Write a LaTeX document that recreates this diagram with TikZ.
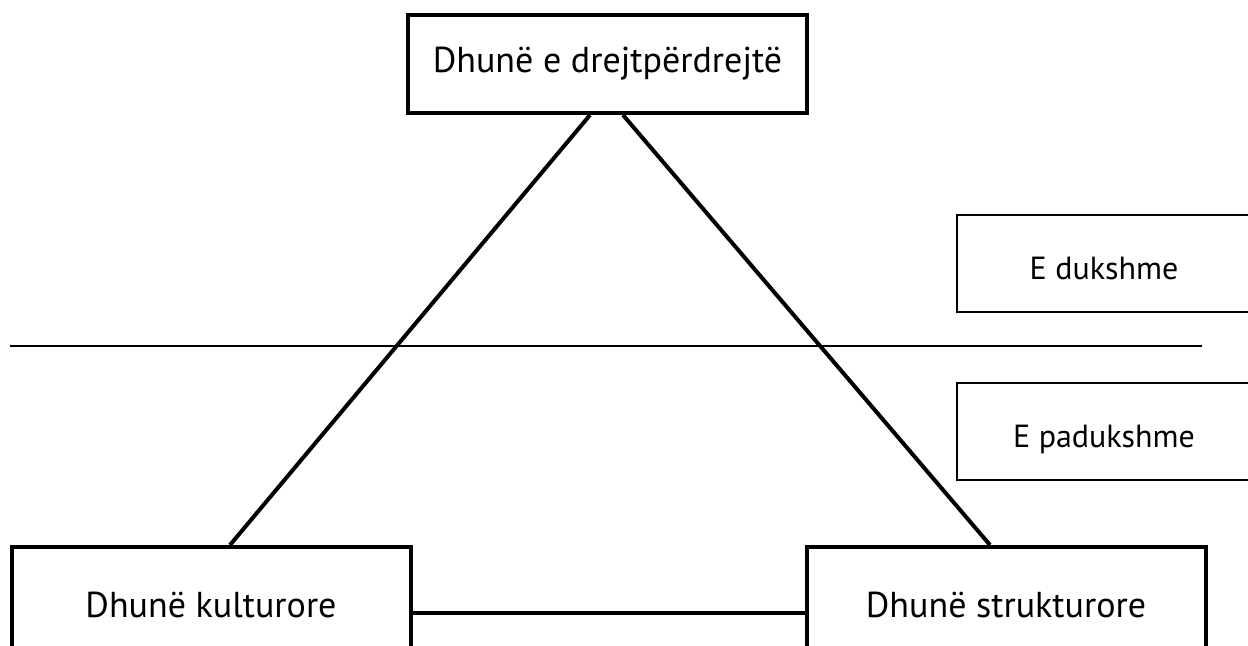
\documentclass[tikz,border=0pt]{standalone}
\usepackage{fontspec}
\setmainfont{PT Sans}
\begin{document}
\begin{tikzpicture}[x=0.5pt,y=-0.5pt,
    vbox/.style={draw, line width=2pt, minimum width=199.5pt, inner sep=0pt,
      font=\fontsize{18}{21}\selectfont},
    levelbox/.style={draw, line width=1.25pt, minimum width=147pt, minimum height=48.5pt,
      inner sep=0pt, text height=16.2pt, text depth=0pt, font=\fontsize{16}{19}\selectfont},
    edge/.style={line width=2pt}]
    \useasboundingbox (0,0) rectangle (1248,645);
    % violence triangle
    \node[vbox, minimum height=49pt] (direct) at (607.5,64) {Dhunë e drejtpërdrejtë};
    \node[vbox, minimum height=58pt] (cultural) at (211,605) {Dhunë kulturore};
    \node[vbox, minimum height=58pt] (structural) at (1006,605) {Dhunë strukturore};
    \draw[edge] ([xshift=-8.75pt]direct.south) -- ([xshift=9.5pt]cultural.north);
    \draw[edge] ([xshift=7.75pt]direct.south) -- ([xshift=-8pt]structural.north);
    \draw[edge] ([yshift=-4pt]cultural.east) -- ([yshift=-4pt]structural.west);
    % visible / invisible
    \coordinate (split west) at (10,346);
    \coordinate (split east) at (1202,346);
    \draw[line width=1.25pt] (split west) -- (split east);
    \node[levelbox] (visible) at (1104,263.5) {E dukshme};
    \node[levelbox] (invisible) at (1104,431.5) {E padukshme};
\end{tikzpicture}
\end{document}
